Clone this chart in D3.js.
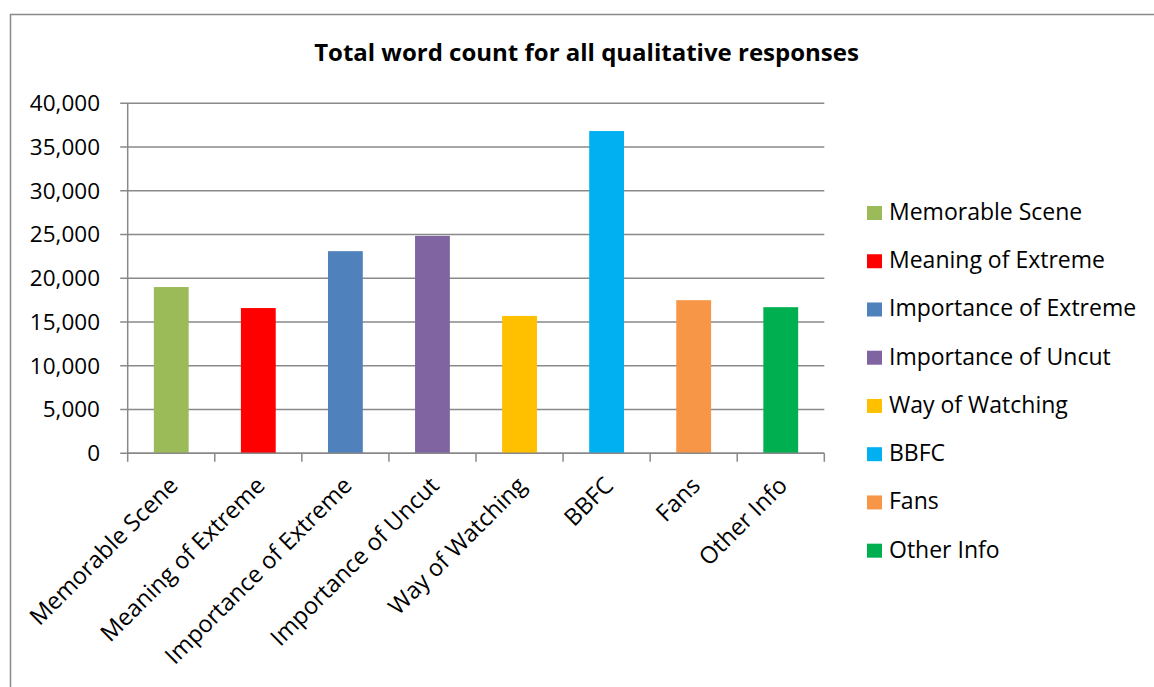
<!DOCTYPE html>
<html>
<head>
<meta charset="utf-8">
<script src="https://cdn.jsdelivr.net/npm/d3@7"></script>
<style>
  html, body { margin: 0; padding: 0; background: #fff; }
  svg { display: block; }
  text { font-family: "Open Sans", "Noto Sans", sans-serif; fill: #000; }
</style>
</head>
<body>
<svg id="chart" width="1154" height="687"></svg>
<script>
const categories = ["Memorable Scene", "Meaning of Extreme", "Importance of Extreme", "Importance of Uncut", "Way of Watching", "BBFC", "Fans", "Other Info"];
const values = [19000, 16600, 23100, 24850, 15700, 36830, 17500, 16700];
const colors = ["#9BBB59", "#FF0000", "#4F81BD", "#8064A2", "#FFC000", "#00B0F0", "#F79646", "#00B050"];
const yTicks = [0, 5000, 10000, 15000, 20000, 25000, 30000, 35000, 40000];
const title = "Total word count for all qualitative responses";

const svg = d3.select("#chart");
const W = 1154, H = 687;
const plot = { left: 127.7, right: 824.3, top: 103.3, bottom: 453.3 };
const gridColor = "#898989";

// outer border (right and bottom edges fall outside the frame)
svg.append("rect")
  .attr("x", 10.5).attr("y", 14.5)
  .attr("width", W + 20).attr("height", H + 20)
  .attr("fill", "#fff").attr("stroke", gridColor).attr("stroke-width", 1.5);

svg.append("text")
  .attr("x", (313 + 860) / 2).attr("y", 61)
  .attr("text-anchor", "middle")
  .style("font-weight", "bold").style("font-size", "24px")
  .text(title);

const x = d3.scaleBand().domain(categories)
  .range([plot.left, plot.right])
  .paddingInner(0.6).paddingOuter(0.3);
const y = d3.scaleLinear().domain([0, 40000]).range([plot.bottom, plot.top]);

// gridlines
svg.append("g").selectAll("line").data(yTicks).join("line")
  .attr("x1", plot.left - 7.5).attr("x2", plot.right)
  .attr("y1", d => y(d)).attr("y2", d => y(d))
  .attr("stroke", gridColor).attr("stroke-width", 1.5);

// y axis line
svg.append("line")
  .attr("x1", plot.left).attr("x2", plot.left)
  .attr("y1", plot.top).attr("y2", plot.bottom)
  .attr("stroke", gridColor).attr("stroke-width", 1.5);

// y tick labels
const fmt = d3.format(",");
svg.append("g").selectAll("text").data(yTicks).join("text")
  .attr("x", 100).attr("y", d => y(d) + 7.7)
  .attr("text-anchor", "end")
  .style("font-size", "22.5px")
  .text(d => fmt(d));

// bars
svg.append("g").selectAll("rect").data(values).join("rect")
  .attr("x", (d, i) => x(categories[i]))
  .attr("width", x.bandwidth())
  .attr("y", d => y(d))
  .attr("height", d => y(0) - y(d))
  .attr("fill", (d, i) => colors[i]);

// x axis line and ticks at category boundaries
svg.append("line")
  .attr("x1", plot.left).attr("x2", plot.right)
  .attr("y1", plot.bottom).attr("y2", plot.bottom)
  .attr("stroke", gridColor).attr("stroke-width", 1.5);
const step = x.step();
const boundaries = d3.range(categories.length + 1).map(i => plot.left + i * step);
svg.append("g").selectAll("line").data(boundaries).join("line")
  .attr("x1", d => d).attr("x2", d => d)
  .attr("y1", plot.bottom).attr("y2", plot.bottom + 8.5)
  .attr("stroke", gridColor).attr("stroke-width", 1.5);

// x labels rotated
svg.append("g").selectAll("text").data(categories).join("text")
  .attr("transform", d => `translate(${x(d) + x.bandwidth() / 2 + 8},487) rotate(-45)`)
  .attr("text-anchor", "end")
  .style("font-size", "23.5px")
  .text(d => d);

// legend
const lg = svg.append("g");
categories.forEach((c, i) => {
  const by = 220 + i * 48.24;
  lg.append("rect").attr("x", 867).attr("y", by - 14).attr("width", 15).attr("height", 14).attr("fill", colors[i]);
  lg.append("text").attr("x", 889).attr("y", by).style("font-size", "23px").text(c);
});
</script>
</body>
</html>
